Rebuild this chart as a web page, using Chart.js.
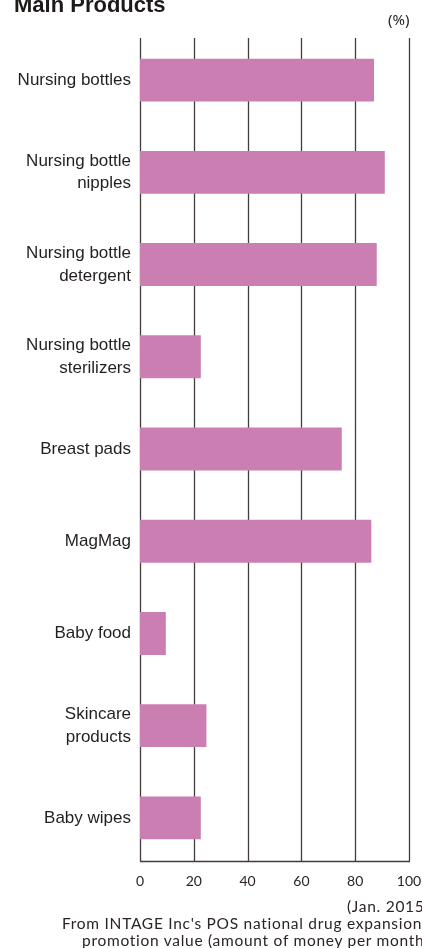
<!DOCTYPE html>
<html>
<head>
<meta charset="utf-8">
<script src="https://cdn.jsdelivr.net/npm/chart.js@4"></script>
<style>
  html, body { margin: 0; padding: 0; background: #fff; overflow: hidden; }
  #wrap { position: relative; width: 422px; height: 948px; overflow: hidden; }
  #wrap canvas { position: absolute; left: 0; top: 0; }
  .txt { position: absolute; white-space: nowrap; color: #2b2523; line-height: 1; }
  #title { left: 14px; top: -8px; font: bold 22px "Liberation Sans", Arial, sans-serif; color: #1e1a19; }
  #unit { left: 388px; top: 12px; font: 15px "Noto Sans", sans-serif; line-height: 1; }
  .src { font: 15.5px Lato, sans-serif; letter-spacing: 0.72px; }
  #src1 { left: 347px; top: 897px; }
  #src2 { left: 62px; top: 914px; }
  #src3 { left: 82px; top: 931px; }
</style>
</head>
<body>
<div id="wrap">
  <canvas id="chart" width="422" height="948"></canvas>
  <div class="txt" id="title">Main Products</div>
  <div class="txt" id="unit">(%)</div>
  <div class="txt src" id="src1">(Jan. 2015)</div>
  <div class="txt src" id="src2">From INTAGE Inc's POS national drug expansion</div>
  <div class="txt src" id="src3">promotion value (amount of money per month)</div>
</div>
<script>
// categories (multi-line labels) and share values in %
const products = [
    ["Nursing bottles"],
    ["Nursing bottle", "nipples"],
    ["Nursing bottle", "detergent"],
    ["Nursing bottle", "sterilizers"],
    ["Breast pads"],
    ["MagMag"],
    ["Baby food"],
    ["Skincare", "products"],
    ["Baby wipes"]
];
const shares = [87, 91, 88, 22.6, 75, 86, 9.6, 24.7, 22.6];
const xTicks = [0, 20, 40, 60, 80, 100];

// vertical grid lines + bottom line, drawn under the bars
const gridLines = {
    id: 'gridLines',
    beforeDatasetsDraw(chart) {
        const ctx = chart.ctx;
        const x = chart.scales.x;
        const top = 38, bottom = 861;
        ctx.save();
        ctx.strokeStyle = '#443c3a';
        ctx.lineWidth = 1.3;
        xTicks.forEach(function(t) {
            const px = Math.round(x.getPixelForValue(t)) + 0.5;
            ctx.beginPath();
            ctx.moveTo(px, top);
            ctx.lineTo(px, bottom);
            ctx.stroke();
        });
        ctx.beginPath();
        ctx.moveTo(x.getPixelForValue(0), bottom + 0.5);
        ctx.lineTo(x.getPixelForValue(100) + 1, bottom + 0.5);
        ctx.stroke();
        ctx.restore();
    }
};

new Chart(document.getElementById("chart"), {
    type: 'bar',
    data: {
        labels: products,
        datasets: [{
            data: shares,
            backgroundColor: '#cb7eb2',
            borderWidth: 0,
            categoryPercentage: 1,
            barPercentage: 0.465
        }]
    },
    options: {
        indexAxis: 'y',
        responsive: false,
        animation: false,
        layout: { padding: { top: 34, right: 13, left: 0, bottom: 0 } },
        plugins: {
            legend: { display: false },
            tooltip: { enabled: false }
        },
        scales: {
            x: {
                min: 0,
                max: 100,
                afterBuildTicks: function(scale) {
                    scale.ticks = xTicks.map(function(v) { return { value: v }; });
                },
                afterFit: function(scale) {
                    scale.height = 84;
                    scale.paddingLeft = 0;
                    scale.paddingRight = 0;
                },
                grid: { display: false, drawTicks: false },
                border: { display: false },
                ticks: {
                    padding: 9,
                    color: '#2b2523',
                    font: { family: 'Lato', size: 14 },
                    maxRotation: 0
                }
            },
            y: {
                afterFit: function(scale) {
                    scale.width = 140;
                    scale.paddingTop = 0;
                    scale.paddingBottom = 0;
                },
                grid: { display: false, drawTicks: false },
                border: { display: false },
                ticks: {
                    padding: 9,
                    color: '#231f1e',
                    font: { family: '"Liberation Sans"', size: 17, lineHeight: 1.35 }
                }
            }
        }
    },
    plugins: [gridLines]
});
</script>
</body>
</html>
